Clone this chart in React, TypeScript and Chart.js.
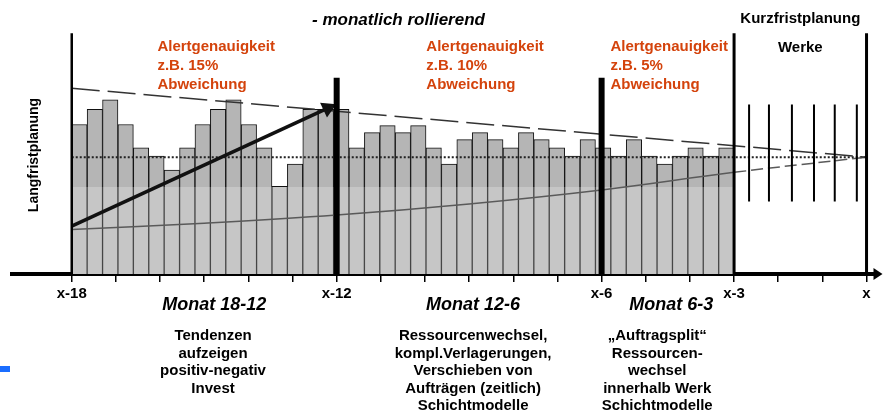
import React, { useEffect, useRef } from 'react';
import { Chart, registerables } from 'chart.js';

Chart.register(...registerables);

// ---------------- data ----------------
const BAR_VALUES = [
  128, 141, 149, 128, 108, 101, 89, 108, 128, 141, 149, 128, 108, 75, 94,
  141, 141, 141, 108, 121, 127, 121, 127, 108, 94, 115, 121, 115, 108, 121,
  115, 108, 101, 115, 108, 101, 115, 101, 94, 101, 108, 101, 108,
];
const BAR_PERIOD_START = -18;
const BAR_PERIOD_END = -3;
const LOWER_BAND_LEVEL = 74.5;
const AVERAGE_LEVEL = 100;

const UPPER_FUNNEL_MONTHS = [-18, 0];
const UPPER_FUNNEL_VALUES = [159, 100];
const LOWER_FUNNEL_MONTHS = [-18, -15, -12, -9, -6, -3, 0];
const LOWER_FUNNEL_VALUES = [38, 43.5, 50.5, 60, 72, 87, 100];
const TREND_MONTHS = [-18, -12.2];
const TREND_VALUES = [41, 142];

const AXIS_MONTHS = [-18, -17, -16, -15, -14, -13, -12, -11, -10, -9, -8, -7, -6, -5, -4, -3, -2, -1, 0];
const LABELED_MONTHS = [-18, -12, -6, -3, 0];
const MONTH_LABELS = ['x-18', 'x-12', 'x-6', 'x-3', 'x'];
const PHASE_BOUNDARIES = [-12, -6];
const PHASE_BOUNDARY_TOP = 168;
const FRAME_MONTHS = [-18, -3, 0];
const FRAME_TOP = 206;
const SHORT_TERM_MONTHS = [-2.66, -2.21, -1.69, -1.19, -0.72, -0.22];
const SHORT_TERM_LOW = 62;
const SHORT_TERM_HIGH = 145;

const TITLE = '- monatlich rollierend';
const Y_TITLE = 'Langfristplanung';
const SHORT_TERM_TITLE = ['Kurzfristplanung', 'Werke'];
const ALERT_TEXTS = [
  ['Alertgenauigkeit', 'z.B. 15%', 'Abweichung'],
  ['Alertgenauigkeit', 'z.B. 10%', 'Abweichung'],
  ['Alertgenauigkeit', 'z.B. 5%', 'Abweichung'],
];
const PHASE_TITLES = ['Monat 18-12', 'Monat 12-6', 'Monat 6-3'];
const PHASE_NOTES = [
  ['Tendenzen', 'aufzeigen', 'positiv-negativ', 'Invest'],
  ['Ressourcenwechsel,', 'kompl.Verlagerungen,', 'Verschieben von', 'Aufträgen (zeitlich)', 'Schichtmodelle'],
  ['\u201EAuftragsplit\u201C', 'Ressourcen-', 'wechsel', 'innerhalb Werk', 'Schichtmodelle'],
];

// ---------------- layout (not data) ----------------
const FONT = '"Liberation Sans", Arial, Helvetica, sans-serif';
const ALERT_LEFT_MONTHS = [-16.06, -9.97, -5.8];
const PHASE_TITLE_MONTHS = [-14.77, -8.91, -4.42];
const PHASE_NOTE_MONTHS = [-14.8, -8.91, -4.74];

const textPlugin = {
  id: 'diagramText',
  afterDraw(chart: any) {
    const { ctx, chartArea } = chart;
    const xs = chart.scales.x;
    const px = (m: number) => xs.getPixelForValue(m);
    ctx.save();

    // arrow head of the time axis
    const ay = chartArea.bottom;
    ctx.fillStyle = '#000';
    ctx.beginPath();
    ctx.moveTo(chartArea.right - 3, ay - 6);
    ctx.lineTo(chartArea.right + 6, ay);
    ctx.lineTo(chartArea.right - 3, ay + 6);
    ctx.closePath();
    ctx.fill();

    ctx.textBaseline = 'alphabetic';
    ctx.fillStyle = '#000';
    ctx.textAlign = 'center';
    ctx.font = `italic bold 17px ${FONT}`;
    ctx.fillText(TITLE, px(-10.6), 25);

    ctx.font = `bold 15px ${FONT}`;
    ctx.fillText(SHORT_TERM_TITLE[0], px(-1.5), 23);
    ctx.fillText(SHORT_TERM_TITLE[1], px(-1.5), 52);

    // y title
    ctx.save();
    ctx.translate(px(-18.86), 155);
    ctx.rotate(-Math.PI / 2);
    ctx.font = `bold 14px ${FONT}`;
    ctx.textBaseline = 'middle';
    ctx.fillText(Y_TITLE, 0, 0);
    ctx.restore();

    // alert texts
    ctx.fillStyle = '#d4430c';
    ctx.textAlign = 'left';
    ctx.font = `bold 15px ${FONT}`;
    ALERT_TEXTS.forEach((lines, i) => {
      lines.forEach((line, j) => ctx.fillText(line, px(ALERT_LEFT_MONTHS[i]), 51 + j * 19));
    });

    // phase titles and notes below the axis
    ctx.fillStyle = '#000';
    ctx.textAlign = 'center';
    ctx.font = `italic bold 18px ${FONT}`;
    PHASE_TITLES.forEach((t, i) => ctx.fillText(t, px(PHASE_TITLE_MONTHS[i]), chartArea.bottom + 36));
    ctx.font = `bold 15px ${FONT}`;
    PHASE_NOTES.forEach((lines, i) => {
      lines.forEach((line, j) => ctx.fillText(line, px(PHASE_NOTE_MONTHS[i]), chartArea.bottom + 66 + j * 17.5));
    });
    ctx.restore();
  },
};

function lineDs(points: { x: number; y: number }[], extra: any) {
  return {
    type: 'line',
    data: points,
    pointRadius: 0,
    fill: false,
    borderCapStyle: 'butt',
    ...extra,
  };
}

export default function App() {
  const ref = useRef<HTMLCanvasElement>(null);

  useEffect(() => {
    if (!ref.current) return;
    const slot = (BAR_PERIOD_END - BAR_PERIOD_START) / BAR_VALUES.length;
    const barPoints = BAR_VALUES.map((v, i) => ({ x: BAR_PERIOD_START + (i + 0.5) * slot, y: v }));
    const bandPoints = BAR_VALUES.map((v, i) => ({ x: BAR_PERIOD_START + (i + 0.5) * slot, y: Math.min(v, LOWER_BAND_LEVEL) }));

    const datasets: any[] = [
      {
        type: 'bar',
        data: barPoints,
        backgroundColor: '#b5b5b5',
        borderColor: '#111',
        borderWidth: 1,
        borderSkipped: 'bottom',
        barPercentage: 1,
        categoryPercentage: 1,
        grouped: false,
        order: 20,
      },
      {
        type: 'bar',
        data: bandPoints,
        backgroundColor: '#c6c6c6',
        borderColor: '#4a4a4a',
        borderWidth: { left: 1, right: 1, top: 0, bottom: 0 },
        barPercentage: 1,
        categoryPercentage: 1,
        grouped: false,
        order: 19,
      },
      lineDs(
        [
          { x: BAR_PERIOD_START, y: AVERAGE_LEVEL },
          { x: 0, y: AVERAGE_LEVEL },
        ],
        { borderColor: '#222', borderWidth: 2, borderDash: [2, 2], order: 8 }
      ),
      lineDs(
        UPPER_FUNNEL_MONTHS.map((m, i) => ({ x: m, y: UPPER_FUNNEL_VALUES[i] })),
        { borderColor: '#333', borderWidth: 1.5, borderDash: [28, 8], order: 7 }
      ),
      lineDs(
        LOWER_FUNNEL_MONTHS.map((m, i) => ({ x: m, y: LOWER_FUNNEL_VALUES[i] })),
        {
          borderColor: '#5a5a5a',
          borderWidth: 1.5,
          tension: 0.4,
          order: 7,
          segment: { borderDash: (c: any) => (c.p0.parsed.x >= -3 ? [12, 5] : undefined) },
        }
      ),
      lineDs(
        TREND_MONTHS.map((m, i) => ({ x: m, y: TREND_VALUES[i] })),
        {
          borderColor: '#111',
          borderWidth: 3.5,
          order: 2,
          pointRadius: [0, 6],
          pointStyle: 'triangle',
          pointBackgroundColor: '#111',
          pointBorderColor: '#111',
          pointRotation: (c: any) => {
            const ch = c.chart;
            const xs = ch.scales.x;
            const ys = ch.scales.y;
            if (!xs || !ys) return 0;
            const dx = xs.getPixelForValue(TREND_MONTHS[1]) - xs.getPixelForValue(TREND_MONTHS[0]);
            const dy = ys.getPixelForValue(TREND_VALUES[1]) - ys.getPixelForValue(TREND_VALUES[0]);
            return (Math.atan2(dy, dx) * 180) / Math.PI + 90;
          },
        }
      ),
      ...PHASE_BOUNDARIES.map((m) =>
        lineDs(
          [
            { x: m, y: 0 },
            { x: m, y: PHASE_BOUNDARY_TOP },
          ],
          { borderColor: '#000', borderWidth: 6, order: 1 }
        )
      ),
      ...FRAME_MONTHS.map((m, i) =>
        lineDs(
          [
            { x: m, y: 0 },
            { x: m, y: FRAME_TOP },
          ],
          { borderColor: '#000', borderWidth: i === 0 ? 2.5 : 3, order: 1 }
        )
      ),
      ...SHORT_TERM_MONTHS.map((m) =>
        lineDs(
          [
            { x: m, y: SHORT_TERM_LOW },
            { x: m, y: SHORT_TERM_HIGH },
          ],
          { borderColor: '#000', borderWidth: 2, order: 1 }
        )
      ),
    ];

    const chart = new Chart(ref.current, {
      type: 'bar',
      data: { datasets },
      options: {
        animation: false,
        responsive: false,
        events: [],
        layout: { padding: { left: 12, right: 6, top: 17, bottom: 108 } },
        plugins: {
          legend: { display: false },
          tooltip: { enabled: false },
          title: { display: false },
        },
        scales: {
          x: {
            type: 'linear',
            min: -19.353,
            max: 0.2256,
            bounds: 'data',
            offset: false,
            z: 1,
            afterBuildTicks: (s: any) => {
              s.ticks = AXIS_MONTHS.map((v) => ({ value: v }));
            },
            ticks: {
              autoSkip: false,
              maxRotation: 0,
              padding: 3,
              color: '#000',
              font: { family: FONT, size: 15, weight: 'bold' },
              callback: (v: any) => {
                const i = LABELED_MONTHS.indexOf(Number(v));
                return i >= 0 ? MONTH_LABELS[i] : '';
              },
            },
            grid: { offset: false, drawOnChartArea: false, drawTicks: true, tickLength: 8, color: '#000', lineWidth: 1.5 },
            border: { display: true, color: '#000', width: 4 },
          },
          y: { display: false, min: 0, max: 220 },
        },
      },
      plugins: [textPlugin],
    } as any);
    return () => chart.destroy();
  }, []);

  return (
    <div style={{ position: 'fixed', left: 0, top: 0, width: 886, height: 414, background: '#fff', overflow: 'hidden' }}>
      <canvas ref={ref} width={886} height={414} style={{ display: 'block' }} />
      <div style={{ position: 'absolute', left: 0, top: 366, width: 10, height: 6, background: '#1a6dff' }} />
    </div>
  );
}
